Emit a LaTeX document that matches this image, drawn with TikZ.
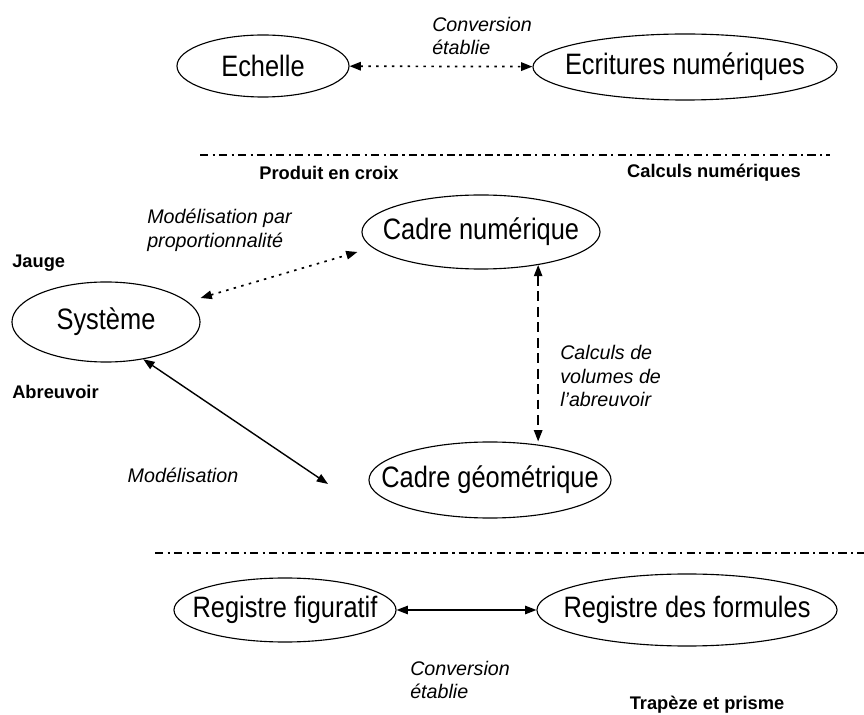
\documentclass[tikz,border=0pt]{standalone}
\usepackage{fontspec}
\setmainfont{Liberation Sans}
\newfontfamily\ovale[FakeStretch=0.86]{Liberation Sans}
\usetikzlibrary{shapes.geometric,arrows.meta}

\tikzset{
  cadre/.style={ellipse,draw,line width=0.8pt,inner sep=0pt,font=\ovale\fontsize{21}{24}\selectfont,
    execute at begin node={\hbox to 0pt\bgroup\hss},execute at end node={\hss\egroup}},
  lien/.style={font=\fontsize{14}{17}\selectfont\itshape,align=left,inner sep=0pt},
  theme/.style={font=\fontsize{13}{15}\selectfont\bfseries,inner sep=0pt},
  fleche/.style={{Triangle[length=8pt,width=6pt]}-{Triangle[length=8pt,width=6pt]},line width=1pt},
  pointille/.style={fleche,line width=1.2pt,dash pattern=on 1.8pt off 3.8pt},
  tirets/.style={fleche,dash pattern=on 7pt off 4pt},
  separateur/.style={line width=0.9pt,dash pattern=on 6pt off 3pt on 1.5pt off 3pt}
}

\begin{document}
\begin{tikzpicture}[x=0.025cm,y=-0.025cm]
\useasboundingbox (0,0) rectangle (864,715);

\node[cadre,minimum width=4.3cm,minimum height=1.55cm] (ech) at (263,66) {Echelle};
\node[cadre,minimum width=7.6cm,minimum height=1.65cm] (ecr) at (685,67) {Ecritures numériques};
\node[lien,anchor=west] (conv1) at (432,36) {Conversion\\établie};
\draw[pointille] (ech) -- (ecr);

\draw[separateur] (200,155) -- (830,155);
\node[theme] (produit) at (329,173) {Produit en croix};
\node[theme] (calculs) at (714,173) {Calculs numériques};

\node[cadre,minimum width=5.95cm,minimum height=1.85cm] (num) at (481,232) {Cadre numérique};
\node[cadre,minimum width=4.7cm,minimum height=2cm] (sys) at (106,322) {Système};
\node[cadre,minimum width=6.05cm,minimum height=1.9cm] (geo) at (490,480) {Cadre géométrique};

\node[lien,anchor=west] (prop) at (147,230) {Modélisation par\\proportionnalité};
\node[theme,anchor=west] (jauge) at (12,263) {Jauge};
\node[theme,anchor=west] (abreuvoir) at (12,392) {Abreuvoir};
\node[lien,anchor=west] (volumes) at (560,376) {Calculs de\\volumes de\\l'abreuvoir};
\node[lien] (model) at (183,475) {Modélisation};

\coordinate (modtip) at (328,484);
\draw[pointille] ([yshift=0.6cm]sys.east) -- ([xshift=-0.1cm,yshift=-0.5cm]num.west);
\draw[tirets] (num.-30) -- (num.-30 |- geo.north);
\draw[fleche] (sys.-45) -- (modtip);

\draw[separateur] (155,553) -- (864,553);

\node[cadre,minimum width=5.55cm,minimum height=1.6cm] (fig) at (285,610) {Registre figuratif};
\node[cadre,minimum width=7.5cm,minimum height=1.8cm] (form) at (687,610) {Registre des formules};
\draw[fleche] (fig) -- (form);
\node[lien,anchor=west] (conv2) at (410,680) {Conversion\\établie};
\node[theme] (trapeze) at (707,705) {Trapèze et prisme};
\end{tikzpicture}
\end{document}
